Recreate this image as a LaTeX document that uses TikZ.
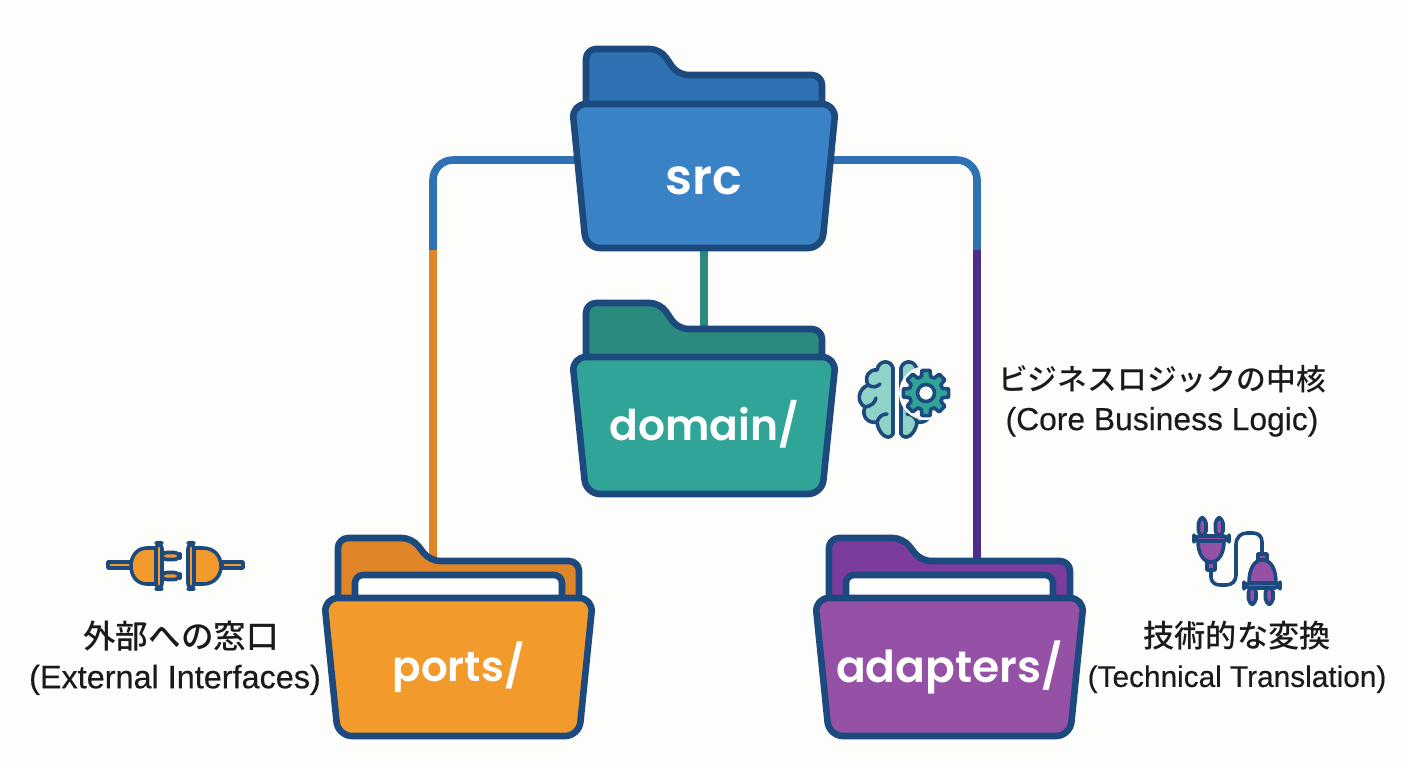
\documentclass[tikz,border=0pt]{standalone}
\usepackage{xcolor}
\usepackage{fontspec}
\usetikzlibrary{backgrounds}
\setmainfont{Liberation Sans}
\newfontfamily\capfont{Liberation Sans}[FakeBold=0.35]
\newfontfamily\cjk{Noto Sans CJK JP}[BoldFont={* Medium}]
\newfontfamily\foldfont{Poppins}[BoldFont={* SemiBold}]
\definecolor{paperbg}{HTML}{FDFDFB}
\definecolor{navy}{HTML}{1D4A7E}
\definecolor{srcfront}{HTML}{3A82C6}
\definecolor{srcback}{HTML}{2F72B4}
\definecolor{domfront}{HTML}{2FA497}
\definecolor{domback}{HTML}{2B8A7E}
\definecolor{domlight}{HTML}{8FD2C7}
\definecolor{portfront}{HTML}{F39A2D}
\definecolor{portback}{HTML}{E08428}
\definecolor{adafront}{HTML}{9551A6}
\definecolor{adaback}{HTML}{7B3C9E}
\definecolor{adalink}{HTML}{4F2D8C}
\definecolor{inktext}{HTML}{1A1A1A}

\tikzset{
    folderline/.style={draw=navy, line width=3.3pt, line join=round},
    iconline/.style={draw=navy, line width=1.8pt, line join=round, line cap=round},
    foldername/.style={font=\foldfont\bfseries\fontsize{#1}{30}\selectfont, text=white, inner sep=0pt, minimum width=125pt, minimum height=70pt},
    caption/.style={align=center, text=inktext, inner sep=0pt, font=\capfont\fontsize{#1}{19.8}\selectfont},
    link/.style={line width=3.8pt}
}

% cx, top, half width, shoulder, back height, front colour, back colour
\newcommand{\folder}[7]{
    \begin{scope}[shift={(#1,#2)}]
        \draw[folderline, fill=#7, rounded corners=5pt]
            ({-#3+14},8) -- ({-#3+14},{-#5}) -- ({-#3+88},{-#5})
            -- ({-#3+106},{-#4}) -- ({#3-14},{-#4}) -- ({#3-14},8);
    \end{scope}
}
\newcommand{\folderfront}[5]{
    \begin{scope}[shift={(#1,#2)}]
        \draw[folderline, fill=#5, rounded corners=7pt]
            (-#3,0) -- (#3,0) -- ({#3-14},#4) -- ({-#3+14},#4) -- cycle;
    \end{scope}
}
% cx, top, half width of the sheet
\newcommand{\foldersheet}[3]{
    \draw[folderline, fill=white, rounded corners=4pt]
        ({#1-#3},{#2+8}) -- ({#1-#3},{#2-23}) -- ({#1+#3},{#2-23}) -- ({#1+#3},{#2+8});
}

\begin{document}
\begin{tikzpicture}[x=0.5pt, y=-0.5pt]
    \useasboundingbox (0,0) rectangle (1408,768);

    % Folders
    \folder{704}{104}{132}{29}{55}{srcfront}{srcback}
    \folderfront{704}{104}{132}{144}{srcfront}
    \folder{704}{357}{132}{28}{54}{domfront}{domback}
    \folderfront{704}{357}{132}{137}{domfront}
    \folder{458.5}{598}{134.5}{37}{60}{portfront}{portback}
    \foldersheet{458.5}{598}{103.5}
    \folderfront{458.5}{598}{134.5}{138}{portfront}
    \folder{949.5}{598}{134.5}{37}{60}{adafront}{adaback}
    \foldersheet{949.5}{598}{103.5}
    \folderfront{949.5}{598}{134.5}{138}{adafront}

    % Names
    \node[foldername=24.7] (src) at (704,181) {src};
    \node[foldername=21.2] (domain) at (704,424) {domain/};
    \node[foldername=21] (ports) at (458.5,667) {ports/};
    \node[foldername=22] (adapters) at (949.5,667) {adapters/};

    % Captions
    \node[caption=15.9] (corelabel) at (1162,401) {{\cjk\bfseries\fontsize{14.9}{20}\selectfont ビジネスロジックの中核}\\(Core Business Logic)};
    \node[caption=16.2] (portlabel) at (175,658) {\hspace*{6pt}{\cjk\bfseries\fontsize{16.3}{20}\selectfont 外部への窓口}\\(External Interfaces)};
    \node[caption=14.9] (adaptlabel) at (1237,657) {{\cjk\bfseries\fontsize{15.6}{20}\selectfont 技術的な変換}\\(Technical Translation)};

    % Connectors
    \coordinate (ltop) at (433,160);
    \coordinate (rtop) at (977,160);
    \coordinate (ltee) at (433,250);
    \coordinate (rtee) at (977,250);
    \begin{pgfonlayer}{background}
        \fill[paperbg] (0,0) rectangle (1408,768);
        \draw[link, draw=srcback, rounded corners=10pt] (ltop -| src.west) -- (ltop) -- (ltee);
        \draw[link, draw=srcback, rounded corners=10pt] (rtop -| src.east) -- (rtop) -- (rtee);
        \draw[link, draw=portback] (ltee) -- (ltee |- ports.north);
        \draw[link, draw=adalink] (rtee) -- (rtee |- adapters.north);
        \draw[link, draw=domback] (src.south) -- (domain.north);
    \end{pgfonlayer}

    % Brain and gear
    \begin{scope}[shift={(897,0)}]
        \foreach \side in {1,-1} {
            \begin{scope}[xscale=\side]
                \draw[iconline, fill=domlight]
                    (-4,368) .. controls (-6,360) and (-18,359) .. (-20,370)
                    .. controls (-28,369) and (-33,377) .. (-29,385)
                    .. controls (-39,389) and (-41,402) .. (-32,407)
                    .. controls (-36,416) and (-29,424) .. (-20,422)
                    .. controls (-19,433) and (-9,442) .. (-4,434) -- cycle;
                \draw[iconline] (-29,385) .. controls (-24,388) and (-20,387) .. (-17,384);
                \draw[iconline] (-32,407) .. controls (-26,406) and (-22,403) .. (-21,398);
                \draw[iconline] (-20,422) .. controls (-18,416) and (-14,414) .. (-10,414);
            \end{scope}
        }
    \end{scope}
    \begin{scope}[shift={(926,393)}]
        \draw[draw=paperbg, line width=2pt, fill=paperbg] (0,0) circle (25);
        \draw[iconline, fill=domfront] (-16:17)
            \foreach \a in {0,45,...,315} {
                -- (\a-16:17) -- (\a-10:23) -- (\a+10:23) -- (\a+16:17)
            } -- cycle;
        \draw[iconline, fill=white] (0,0) circle (8.5);
    \end{scope}

    % Orange plug pair
    \draw[iconline, fill=portfront] (108,562) rectangle (133,568);
    \draw[iconline, fill=portfront] (222,562) rectangle (243,568);
    \draw[iconline, fill=portfront, rounded corners=3pt] (161,552.5) rectangle (180,559.5);
    \draw[iconline, fill=portfront, rounded corners=3pt] (161,572.5) rectangle (180,579.5);
    \draw[iconline, fill=portfront] (158,548) -- (147,548) .. controls (137,548) and (131,556) .. (131,566)
        .. controls (131,576) and (137,584) .. (147,584) -- (158,584) -- cycle;
    \draw[iconline, fill=portfront] (194,548) -- (203,548) .. controls (214,548) and (221,556) .. (221,566)
        .. controls (221,576) and (214,584) .. (203,584) -- (194,584) -- cycle;
    \draw[iconline, fill=portfront, rounded corners=3pt] (156,543) rectangle (162,589);
    \draw[iconline, fill=portfront, rounded corners=3pt] (188,543) rectangle (194,589);

    % Purple plug pair
    \draw[iconline] (1211,571) -- (1211,577) .. controls (1211,582) and (1215,585) .. (1220,585)
        -- (1226,585) .. controls (1232,585) and (1236,581) .. (1236,575) -- (1236,545)
        .. controls (1236,537) and (1241,533) .. (1247,533) -- (1253,533)
        .. controls (1259,533) and (1262,537) .. (1262,542) -- (1262,553);
    \draw[iconline, fill=adafront, rounded corners=2.5pt] (1198.5,518) rectangle (1206,536);
    \draw[iconline, fill=adafront, rounded corners=2.5pt] (1215.5,518) rectangle (1223,536);
    \draw[iconline, fill=adafront] (1207,562) rectangle (1215,570);
    \draw[iconline, fill=adafront] (1198,541) .. controls (1198,553) and (1203,562) .. (1211,562)
        .. controls (1219,562) and (1224,553) .. (1224,541) -- cycle;
    \draw[iconline, fill=adafront, rounded corners=3pt] (1194,536) rectangle (1229,541);
    \draw[iconline, fill=adafront, rounded corners=2.5pt] (1248.5,587) rectangle (1256,604);
    \draw[iconline, fill=adafront, rounded corners=2.5pt] (1265.5,587) rectangle (1273,604);
    \draw[iconline, fill=adafront] (1258,554) rectangle (1267,560);
    \draw[iconline, fill=adafront] (1249,583) .. controls (1249,569) and (1254,560) .. (1262.5,560)
        .. controls (1271,560) and (1276,569) .. (1276,583) -- cycle;
    \draw[iconline, fill=adafront, rounded corners=3pt] (1244,583) rectangle (1280,588);
\end{tikzpicture}
\end{document}
